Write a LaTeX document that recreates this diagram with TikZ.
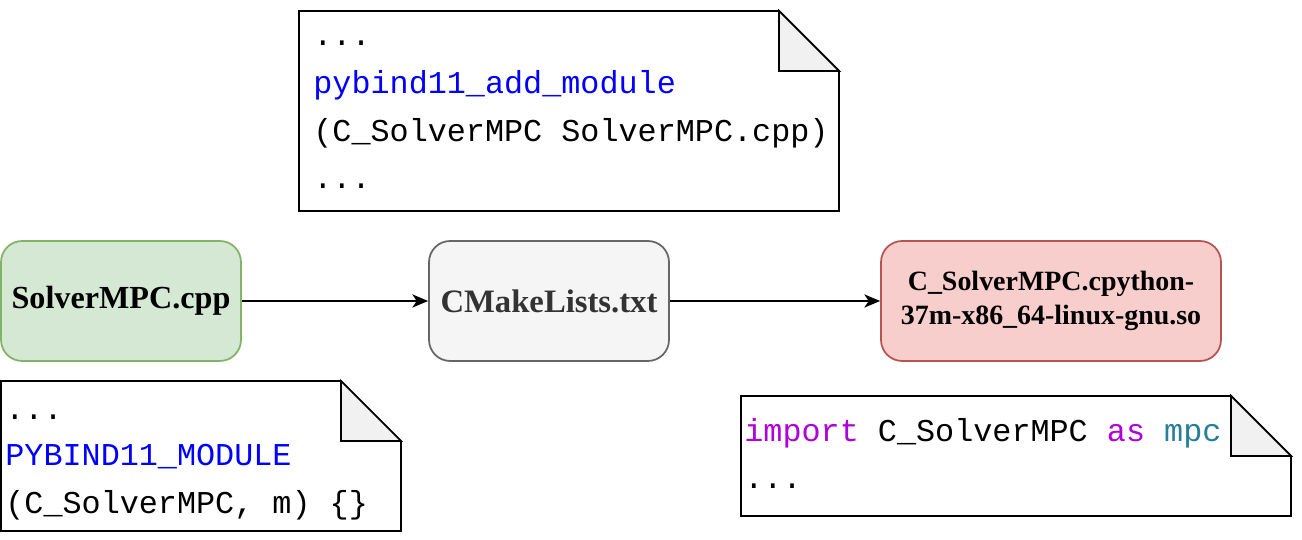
\documentclass[tikz,border=0pt]{standalone}
\usepackage{fontspec}
\setmainfont{Liberation Serif}
\setmonofont{Liberation Mono}
\usetikzlibrary{positioning,arrows.meta}
\definecolor{greenfill}{HTML}{D5E8D4}
\definecolor{greendraw}{HTML}{82B366}
\definecolor{greyfill}{HTML}{F5F5F5}
\definecolor{greydraw}{HTML}{666666}
\definecolor{greytext}{HTML}{333333}
\definecolor{redfill}{HTML}{F8CECC}
\definecolor{reddraw}{HTML}{B85450}
\definecolor{foldfill}{HTML}{F1F1F1}
\definecolor{kwblue}{HTML}{0000FF}
\definecolor{kwpurple}{HTML}{AF00DB}
\definecolor{kwteal}{HTML}{267F99}
\tikzset{
  filebox/.style={draw, line width=1pt, rounded corners=12pt, minimum width=4.8cm,
    minimum height=2.4cm, align=center, inner sep=0pt,
    font=\bfseries\fontsize{18.3}{21}\selectfont},
  codeline/.style={anchor=base west, inner sep=0pt, font=\ttfamily\fontsize{18.1}{21}\selectfont},
  notebox/.style={draw, line width=1pt, fill=white},
  foldbox/.style={draw, line width=1pt, fill=foldfill},
  link/.style={-{Stealth[length=9pt, width=7.5pt, inset=2.5pt]}, line width=1pt}
}
\begin{document}
\begin{tikzpicture}[x=0.02cm, y=-0.02cm]
	  \useasboundingbox (0,0) rectangle (1302,540);
	  % files
	  \node[filebox, fill=greenfill, draw=greendraw] (cpp) at (121,301) {SolverMPC.cpp};
	  \node[filebox, fill=greyfill, draw=greydraw, text=greytext,
	        font=\bfseries\fontsize{18.6}{21}\selectfont] (cmake) at (549,301) {CMakeLists.txt};
	  \node[filebox, fill=redfill, draw=reddraw, minimum width=6.8cm,
	        font=\bfseries\fontsize{15.9}{19.2}\selectfont] (so) at (1051,301)
	        {C\_SolverMPC.cpython-\\37m-x86\_64-linux-gnu.so};
	  \draw[link] (cpp) -- (cmake);
	  \draw[link] (cmake) -- (so);
	  % note: CMakeLists.txt
	  \draw[notebox] (299,11) -- (779,11) -- (839,71) -- (839,211) -- (299,211) -- cycle;
	  \draw[foldbox] (779,11) -- (779,71) -- (839,71) -- cycle;
	  \node[codeline] (cm1) at (313,46) {...};
	  \node[codeline, text=kwblue] (cm2) at (313,94) {pybind11\_add\_module};
	  \node[codeline] (cm3) at (313,142) {(C\_SolverMPC SolverMPC.cpp)};
	  \node[codeline] (cm4) at (313,189) {...};
	  % note: SolverMPC.cpp
	  \draw[notebox] (1,381) -- (341,381) -- (401,441) -- (401,531) -- (1,531) -- cycle;
	  \draw[foldbox] (341,381) -- (341,441) -- (401,441) -- cycle;
	  \node[codeline] (sv1) at (5,420) {...};
	  \node[codeline, text=kwblue] (sv2) at (5,466) {PYBIND11\_MODULE};
	  \node[codeline] (sv3) at (5,514) {(C\_SolverMPC, m) \{\}};
	  % note: python
	  \draw[notebox] (741,396) -- (1231,396) -- (1291,456) -- (1291,516) -- (741,516) -- cycle;
	  \draw[foldbox] (1231,396) -- (1231,456) -- (1291,456) -- cycle;
	  \node[codeline] (py1) at (744,442) {\textcolor{kwpurple}{import} C\_SolverMPC
	        \textcolor{kwpurple}{as} \textcolor{kwteal}{mpc}};
	  \node[codeline] (py2) at (744,489) {...};
	\end{tikzpicture}
\end{document}
